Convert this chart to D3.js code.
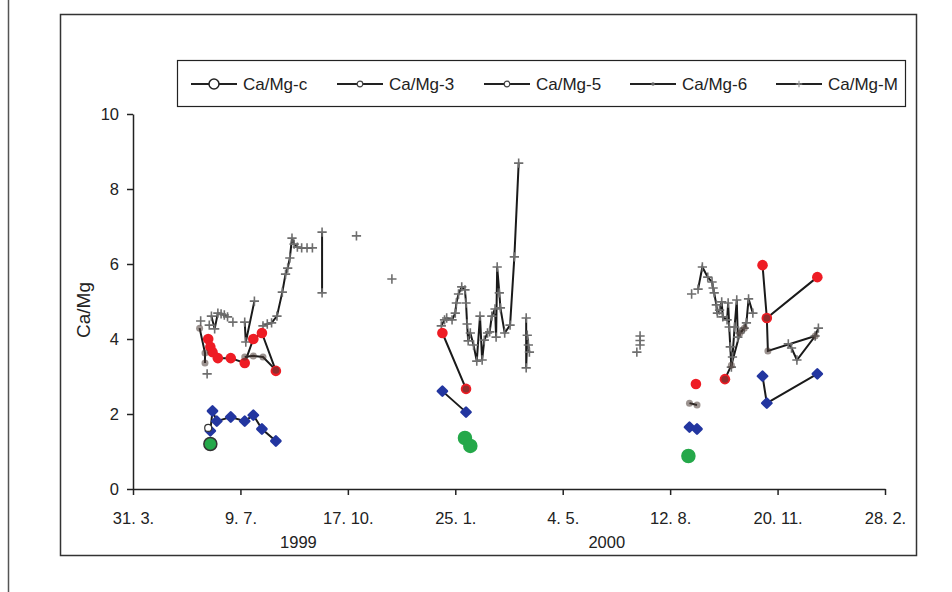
<!DOCTYPE html>
<html>
<head>
<meta charset="utf-8">
<script src="https://cdn.jsdelivr.net/npm/d3@7"></script>
<style>
  body { margin: 0; background: #fff; }
  text { font-family: "Liberation Sans", Arial, sans-serif; fill: #222; }
</style>
</head>
<body>
<div id="chart-area"></div>
<script>
var svgWidth = 952
var svgHeight = 592

// x ticks every 100 days
var tickDates = ["1999-03-31", "1999-07-09", "1999-10-17", "2000-01-25", "2000-05-04", "2000-08-12", "2000-11-20", "2001-02-28"]
var yTicks = [0, 2, 4, 6, 8, 10]
var years = [["1999", "1999-09-01"], ["2000", "2000-06-14"]]
var seriesNames = ["Ca/Mg-c", "Ca/Mg-3", "Ca/Mg-5", "Ca/Mg-6", "Ca/Mg-M"]

// Ca/Mg-c
var datesC = ["1999-06-11", "2000-02-03", "2000-02-08", "2000-08-29"]
var ratioC = [1.2, 1.36, 1.15, 0.88]
var datesOpen = ["1999-06-09"]
var ratioOpen = [1.63]

// Ca/Mg-3
var dates3 = ["1999-06-11", "1999-06-13", "1999-06-17", "1999-06-30", "1999-07-13", "1999-07-21", "1999-07-29", "1999-08-11", null,
	"2000-01-13", "2000-02-04", null,
	"2000-08-30", "2000-09-06", null,
	"2000-11-06", "2000-11-10", "2000-12-27"]
var ratio3 = [1.55, 2.08, 1.81, 1.92, 1.81, 1.97, 1.6, 1.28, null,
	2.61, 2.05, null,
	1.65, 1.6, null,
	3.01, 2.29, 3.07]

// Ca/Mg-5
var dates5 = ["1999-06-09", "1999-06-11", "1999-06-13", "1999-06-18", "1999-06-30", "1999-07-13", "1999-07-21", "1999-07-29", "1999-08-11", null,
	"2000-01-13", "2000-02-04", null,
	"2000-09-05", null,
	"2000-10-02", null,
	"2000-11-06", "2000-11-10", "2000-12-27"]
var ratio5 = [4.0, 3.79, 3.65, 3.49, 3.49, 3.36, 4.0, 4.16, 3.15, null,
	4.16, 2.67, null,
	2.8, null,
	2.93, null,
	5.97, 4.56, 5.65]

// Ca/Mg-6
var dates6 = ["1999-06-01", "1999-06-06", "1999-06-06", null,
	"1999-07-13", "1999-07-21", "1999-07-30", "1999-08-11", null,
	"2000-02-04", null,
	"2000-08-30", "2000-09-06", null,
	"2000-10-02", "2000-10-08", "2000-10-16", "2000-10-20", null,
	"2000-11-10", "2000-11-11", "2000-12-25"]
var ratio6 = [4.29, 3.63, 3.36, null,
	3.52, 3.55, 3.52, 3.17, null,
	2.67, null,
	2.29, 2.24, null,
	2.93, 3.3, 4.16, 4.29, null,
	4.56, 3.68, 4.08]

// Ca/Mg-M
var datesM = ["1999-06-02", null, "1999-06-08", null, "1999-06-10", null,
	"1999-06-12", "1999-06-15", "1999-06-18", "1999-06-21", "1999-06-24", "1999-06-27", null,
	"1999-07-02", null,
	"1999-07-13", "1999-07-14", "1999-07-22", null,
	"1999-07-30", "1999-08-03", "1999-08-07", "1999-08-12", "1999-08-17", "1999-08-20", "1999-08-22", "1999-08-24", "1999-08-26", "1999-08-28", "1999-08-31", "1999-09-04", "1999-09-09", "1999-09-14", null,
	"1999-09-23", "1999-09-23", null,
	"1999-10-25", null,
	"1999-11-27", null,
	"2000-01-12", "2000-01-15", "2000-01-17", "2000-01-22", "2000-01-25", "2000-01-26", "2000-01-28", "2000-01-31", "2000-02-03", "2000-02-04", "2000-02-05", "2000-02-06", "2000-02-08", "2000-02-11", "2000-02-14", "2000-02-17", "2000-02-19", "2000-02-21", "2000-02-24", "2000-02-26", "2000-02-28", "2000-03-02", "2000-03-03", "2000-03-04", "2000-03-06", "2000-03-07", "2000-03-11", "2000-03-16", "2000-03-20", "2000-03-24", null,
	"2000-03-31", "2000-03-31", "2000-04-01", "2000-04-02", "2000-04-03", null,
	"2000-07-12", null, "2000-07-15", null, "2000-07-15", null, "2000-07-15", null,
	"2000-09-01", null,
	"2000-09-07", "2000-09-11", "2000-09-16", "2000-09-20", "2000-09-21", "2000-09-22", "2000-09-24", "2000-09-25", "2000-09-27", "2000-09-29", "2000-09-30", "2000-10-04", "2000-10-05", "2000-10-06", "2000-10-07", "2000-10-08", "2000-10-09", "2000-10-11", "2000-10-13", "2000-10-14", "2000-10-16", "2000-10-20", "2000-10-22", "2000-10-24", "2000-10-28", null,
	"2000-11-30", "2000-12-03", "2000-12-08", "2000-12-25", "2000-12-28"]
var ratioM = [4.48, null, 3.07, null, 4.37, null,
	4.61, 4.27, 4.69, 4.67, 4.64, 4.59, null,
	4.45, null,
	4.45, 3.92, 5.01, null,
	4.35, 4.4, 4.43, 4.61, 5.25, 5.73, 5.89, 6.16, 6.69, 6.53, 6.45, 6.43, 6.43, 6.43, null,
	6.85, 5.23, null,
	6.75, null,
	5.6, null,
	4.35, 4.51, 4.56, 4.51, 4.69, 4.96, 5.2, 5.39, 5.31, 4.96, 4.4, 3.95, 4.16, 3.84, 3.41, 4.61, 3.44, 3.97, 4.16, 4.19, 4.61, 4.8, 4.05, 5.92, 5.23, 4.83, 4.16, 4.37, 6.19, 8.69, null,
	4.56, 3.23, 4.1, 3.84, 3.65, null,
	3.65, null, 4.08, null, 3.96, null, 3.84, null,
	5.2, null,
	5.33, 5.92, 5.65, 5.52, 5.36, 5.23, 4.91, 4.69, 4.77, 4.99, 4.59, 4.51, 4.96, 4.32, 3.79, 3.25, 3.52, 4.32, 5.04, 4.05, 4.16, 4.29, 4.43, 5.07, 4.69, null,
	3.87, 3.76, 3.44, 4.08, 4.29]

var parseDate = d3.timeParse("%Y-%m-%d")

function toPoints(dates, values) {
	return dates.map(function(d, i){
		return { date: d ? parseDate(d) : null, value: values[i] }
	})
}

var svg = d3.select("#chart-area")
			.append("svg")
			.attr("width", svgWidth)
			.attr("height", svgHeight)

// outer frames
svg.append("line")
	.attr("x1", 8.5).attr("x2", 8.5).attr("y1", 0).attr("y2", svgHeight)
	.attr("stroke", "#555").attr("stroke-width", 1.5)
svg.append("rect")
	.attr("x", 60.5).attr("y", 14.5).attr("width", 856).attr("height", 541)
	.attr("fill", "none").attr("stroke", "#333").attr("stroke-width", 1.5)

var x = d3.scaleTime()
			.domain([parseDate("1999-03-31"), parseDate("2001-02-28")])
			.range([133, 885])

var y = d3.scaleLinear()
			.domain([0, 10])
			.range([489, 114])

var xAxis = d3.axisBottom(x)
			.tickValues(tickDates.map(parseDate))
			.tickFormat(d3.timeFormat("%-d. %-m."))
			.tickSize(6)
			.tickSizeOuter(0)
			.tickPadding(17)

var yAxis = d3.axisLeft(y)
			.tickValues(yTicks)
			.tickSize(6)
			.tickSizeOuter(0)
			.tickPadding(8)

var gx = svg.append("g")
	.attr("transform", "translate(0,489)")
	.call(xAxis)
var gy = svg.append("g")
	.attr("transform", "translate(133,0)")
	.call(yAxis)

svg.selectAll(".tick text")
	.attr("font-size", 16.5)
	.attr("font-family", "Liberation Sans, Arial, sans-serif")
	.attr("fill", "#222")
svg.selectAll(".domain, .tick line")
	.attr("stroke", "#222")
	.attr("stroke-width", 1.5)

svg.selectAll(".year")
	.data(years)
	.enter()
	.append("text")
	.attr("class", "year")
	.attr("x", function(d){ return x(parseDate(d[1])) })
	.attr("y", 548)
	.attr("text-anchor", "middle")
	.attr("font-size", 16.5)
	.text(function(d){ return d[0] })

svg.append("text")
	.attr("transform", "translate(90,310) rotate(-90)")
	.attr("text-anchor", "middle")
	.attr("font-size", 19)
	.text("Ca/Mg")

var line = d3.line()
			.defined(function(d){ return d.value !== null })
			.x(function(d){ return x(d.date) })
			.y(function(d){ return y(d.value) })

var ptsC = toPoints(datesC, ratioC)
var pts3 = toPoints(dates3, ratio3)
var pts5 = toPoints(dates5, ratio5)
var pts6 = toPoints(dates6, ratio6)
var ptsM = toPoints(datesM, ratioM)
var ptsOpen = toPoints(datesOpen, ratioOpen)

function valid(p) {
	return p.filter(function(d){ return d.value !== null })
}

var plot = svg.append("g")

;[ptsM, pts6, pts3, pts5].forEach(function(p){
	plot.append("path")
		.attr("d", line(p))
		.attr("fill", "none")
		.attr("stroke", "#1a1a1a")
		.attr("stroke-width", 2)
})

plot.selectAll(".mm")
	.data(valid(ptsM))
	.enter()
	.append("path")
	.attr("class", "mm")
	.attr("transform", function(d){ return "translate(" + x(d.date) + "," + y(d.value) + ")" })
	.attr("d", d3.symbol(d3.symbolPlus, 30))
	.attr("fill", "none")
	.attr("stroke", "#6e6e6e")
	.attr("stroke-width", 1.6)

plot.selectAll(".m5")
	.data(valid(pts5))
	.enter()
	.append("circle")
	.attr("class", "m5")
	.attr("cx", function(d){ return x(d.date) })
	.attr("cy", function(d){ return y(d.value) })
	.attr("r", 5.3)
	.attr("fill", "#ee1c24")

plot.selectAll(".m6")
	.data(valid(pts6))
	.enter()
	.append("circle")
	.attr("class", "m6")
	.attr("cx", function(d){ return x(d.date) })
	.attr("cy", function(d){ return y(d.value) })
	.attr("r", 3.5)
	.attr("fill", "#4a3a35")
	.attr("fill-opacity", 0.55)

plot.selectAll(".m3")
	.data(valid(pts3))
	.enter()
	.append("path")
	.attr("class", "m3")
	.attr("transform", function(d){ return "translate(" + x(d.date) + "," + y(d.value) + ") rotate(45)" })
	.attr("d", d3.symbol(d3.symbolSquare, 42))
	.attr("fill", "#2336a0")
	.attr("stroke", "#2336a0")
	.attr("stroke-width", 2.5)
	.attr("stroke-linejoin", "round")

plot.selectAll(".mo")
	.data(ptsOpen)
	.enter()
	.append("circle")
	.attr("class", "mo")
	.attr("cx", function(d){ return x(d.date) })
	.attr("cy", function(d){ return y(d.value) })
	.attr("r", 3.5)
	.attr("fill", "#fff")
	.attr("stroke", "#333")
	.attr("stroke-width", 1.2)

plot.selectAll(".mc")
	.data(ptsC)
	.enter()
	.append("circle")
	.attr("class", "mc")
	.attr("cx", function(d){ return x(d.date) })
	.attr("cy", function(d){ return y(d.value) })
	.attr("r", 6.5)
	.attr("fill", "#25a84a")
	.attr("stroke", function(d, i){ return i === 0 ? "#333" : "#25a84a" })
	.attr("stroke-width", 1.5)

// legend
var legend = svg.append("g")
legend.append("rect")
	.attr("x", 177.5).attr("y", 60.5).attr("width", 728).attr("height", 46)
	.attr("fill", "#fff").attr("stroke", "#222").attr("stroke-width", 1.2)

var legendX = [191, 337, 484, 630, 776]
var item = legend.selectAll(".item")
	.data(seriesNames)
	.enter()
	.append("g")
	.attr("class", "item")
	.attr("transform", function(d, i){ return "translate(" + legendX[i] + ",84)" })

item.append("line")
	.attr("x1", 0).attr("x2", 46)
	.attr("stroke", "#222").attr("stroke-width", 2)

item.append("text")
	.attr("x", 52)
	.attr("dy", "0.35em")
	.attr("font-size", 17)
	.text(function(d){ return d })

item.filter(function(d, i){ return i === 0 })
	.append("circle").attr("cx", 23).attr("r", 5)
	.attr("fill", "#fff").attr("stroke", "#222").attr("stroke-width", 1.5)
item.filter(function(d, i){ return i === 1 || i === 2 })
	.append("circle").attr("cx", 23).attr("r", 2.8)
	.attr("fill", "#fff").attr("stroke", "#444").attr("stroke-width", 1.2)
item.filter(function(d, i){ return i === 3 })
	.append("circle").attr("cx", 23).attr("r", 1.8)
	.attr("fill", "#666")
item.filter(function(d, i){ return i === 4 })
	.append("path").attr("transform", "translate(23,0)")
	.attr("d", d3.symbol(d3.symbolPlus, 16))
	.attr("fill", "none").attr("stroke", "#999").attr("stroke-width", 1.2)
</script>
</body>
</html>
